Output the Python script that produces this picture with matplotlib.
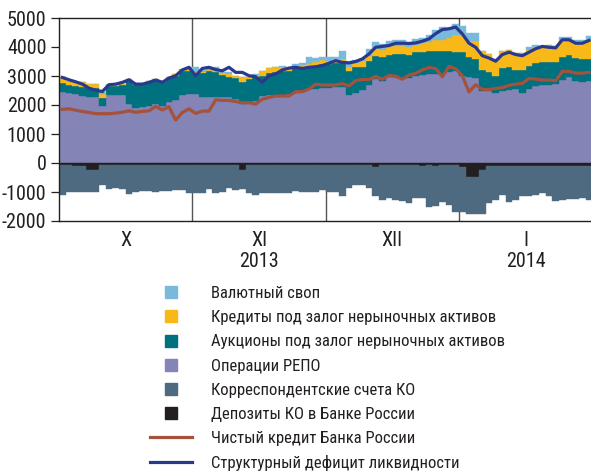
import os
import numpy as np
import matplotlib
matplotlib.use('Agg')
import matplotlib.pyplot as plt
from matplotlib.lines import Line2D
from matplotlib import font_manager as fm

# ежедневные данные, окт 2013 - янв 2014 (млрд руб.), 20 столбцов на месяц
months = ['X', 'XI', 'XII', 'I']
years = {1: '2013', 3: '2014'}

repo = [2450, 2400, 2370, 2310, 2280, 2280, 1970, 2340, 2340, 2340, 2050, 1910, 1930, 1970, 2050, 1970, 2120, 2160, 2350, 2370,
        2370, 2290, 2280, 2280, 2280, 2260, 2200, 2030, 2080, 2140, 2320, 2350, 2350, 2350, 2370, 2430, 2470, 2550, 2550, 2600,
        2600, 2630, 2630, 2350, 2430, 2510, 2700, 2890, 2840, 2950, 2950, 2930, 2930, 3010, 3040, 3070, 3070, 3070, 3130, 3180,
        3010, 2950, 2930, 2470, 2470, 2430, 2470, 2510, 2550, 2410, 2550, 2660, 2700, 2700, 2720, 2860, 2950, 2840, 2780, 2840]
auctions = [300, 300, 290, 320, 320, 300, 265, 320, 320, 360, 790, 810, 790, 810, 810, 810, 810, 845, 810, 790,
            750, 830, 880, 850, 760, 690, 720, 780, 810, 810, 690, 740, 780, 830, 810, 830, 830, 780, 810, 810,
            810, 810, 845, 810, 870, 810, 830, 810, 830, 790, 810, 830, 810, 810, 775, 790, 790, 790, 730, 640,
            810, 690, 660, 720, 660, 580, 810, 790, 660, 800, 780, 780, 780, 780, 750, 790, 780, 790, 810, 750]
credits = [220, 140, 120, 150, 140, 140, 160, 35, 20, 20, 45, 20, 10, 60, 35, 60, 45, 60, 45, 70,
           35, 35, 45, 60, 70, 115, 95, 150, 80, 60, 175, 175, 195, 115, 60, 95, 95, 95, 115, 140,
           115, 150, 115, 160, 140, 210, 175, 265, 230, 280, 290, 290, 255, 265, 315, 315, 370, 370, 460, 580,
           610, 580, 610, 670, 640, 580, 580, 580, 580, 580, 560, 560, 570, 580, 580, 600, 560, 580, 610, 660]
swap = [0, 0, 0, 0, 0, 0, 70, 45, 0, 0, 0, 0, 0, 0, 0, 0, 0, 0, 35, 70,
        140, 45, 115, 115, 45, 60, 0, 0, 0, 60, 0, 0, 0, 35, 0, 60, 45, 230, 150, 95,
        115, 60, 265, 210, 115, 60, 230, 200, 210, 185, 175, 175, 175, 200, 185, 230, 345, 460, 345, 380,
        310, 255, 280, 0, 0, 0, 0, 0, 0, 0, 115, 60, 0, 0, 0, 95, 60, 45, 45, 125]
deposits = [70, 70, 100, 100, 255, 255, 70, 60, 70, 70, 70, 70, 70, 70, 70, 70, 70, 70, 70, 70,
            70, 70, 70, 70, 70, 70, 70, 255, 70, 70, 70, 70, 70, 70, 70, 70, 70, 70, 70, 70,
            70, 70, 70, 70, 70, 70, 70, 130, 70, 70, 70, 70, 70, 70, 110, 70, 110, 70, 70, 70,
            150, 500, 500, 250, 90, 90, 90, 90, 90, 90, 90, 90, 90, 90, 90, 90, 90, 90, 90, 90]
corr = [1030, 915, 885, 885, 730, 730, 705, 830, 800, 820, 995, 915, 890, 890, 915, 890, 890, 855, 855, 970,
        970, 970, 820, 970, 915, 800, 855, 635, 970, 1030, 970, 970, 970, 970, 950, 890, 915, 935, 915, 855,
        915, 915, 1065, 800, 680, 680, 775, 1025, 1205, 1145, 1205, 1240, 1320, 1145, 1105, 1435, 1360, 1260, 1375, 1610,
        1530, 1270, 1270, 1520, 1300, 1185, 1010, 1240, 1185, 1065, 1035, 1010, 950, 1065, 1220, 1185, 1160, 1150, 1125, 1185]
net_credit = [1850, 1870, 1820, 1780, 1740, 1700, 1700, 1700, 1720, 1750, 1800, 1750, 1780, 1800, 1950, 1830, 1940, 1480, 1740, 1870,
              1710, 1790, 1790, 2180, 2160, 2160, 2120, 2080, 2080, 2030, 2200, 2260, 2310, 2310, 2310, 2460, 2460, 2550, 2720, 2690,
              2690, 2690, 2740, 2660, 2840, 2880, 2880, 2990, 2890, 3020, 2990, 2890, 3030, 3090, 3210, 3290, 3260, 2975, 3330, 3250,
              3010, 2450, 2700, 2535, 2535, 2570, 2600, 2675, 2720, 2745, 2915, 2895, 2860, 2860, 2835, 3160, 3160, 3100, 3100, 3125]
deficit = [2950, 2870, 2800, 2720, 2580, 2510, 2465, 2700, 2720, 2780, 2870, 2720, 2720, 2780, 2860, 2780, 2930, 3010, 3210, 3300,
           3010, 3260, 3300, 3220, 3180, 3300, 3125, 3125, 3010, 2975, 2780, 3010, 3070, 3210, 3275, 3300, 3260, 3300, 3320, 3360,
           3440, 3530, 3470, 3450, 3500, 3590, 3760, 3990, 4020, 4050, 4130, 4130, 4120, 4140, 4200, 4280, 4460, 4600, 4630, 4690,
           4450, 4130, 3990, 3700, 3620, 3510, 3740, 3820, 3740, 3700, 3820, 3940, 4020, 3990, 3970, 4250, 4250, 4130, 4130, 4225]

c_swap = '#78b9dc'
c_cred = '#f8b918'
c_auc = '#00717f'
c_repo = '#8584b6'
c_corr = '#4e6a80'
c_dep = '#231f20'
c_red = '#a4523c'
c_blue = '#293a8e'
c_text = '#231f20'


# узкий шрифт, если найдется
def pick_narrow():
    bases = {'liberation sans': 0, 'roboto': 1, 'noto sans': 2, 'open sans': 2, 'dejavu sans': 3, 'lato': 4, 'inter': 4}
    best = None
    for f in fm.fontManager.ttflist:
        if f.style != 'normal' or f.weight not in (400, 'normal', 'regular', 'book'):
            continue
        key = (f.name + ' ' + os.path.basename(f.fname)).lower()
        if 'mono' in key or 'serif' in key.replace('sans serif', ''):
            continue
        if 'narrow' in key or 'condensed' in key or f.stretch in ('condensed', 'semi-condensed'):
            base = f.name.lower().replace('narrow', '').replace('condensed', '').strip()
            if base not in bases:
                continue
            rank = bases[base]
            if 'extra' in key or 'ultra' in key:
                rank += 10
            elif 'semi' in key or f.stretch == 'semi-condensed':
                rank += 5
            if best is None or rank < best[0]:
                best = (rank, f.fname)
    return best[1] if best else None


narrow = pick_narrow()
if narrow:
    base_prop = fm.FontProperties(fname=narrow)
    tick_size, leg_size = 14.5, 12
else:
    base_prop = fm.FontProperties(family='Liberation Sans')
    tick_size, leg_size = 12, 11


def fp(size):
    p = base_prop.copy()
    p.set_size(size)
    return p


repo, auctions, credits, swap = map(np.array, (repo, auctions, credits, swap))
deposits, corr = np.array(deposits), np.array(corr)
x = np.arange(len(repo))

fig = plt.figure(figsize=(5.91, 4.73), dpi=100)
ax = fig.add_axes([59/591, 1 - 221/473, 1 - 59/591, 203/473])

kw = dict(width=1.0, linewidth=0.3)
ax.bar(x, repo, color=c_repo, edgecolor=c_repo, **kw)
ax.bar(x, auctions, bottom=repo, color=c_auc, edgecolor=c_auc, **kw)
ax.bar(x, credits, bottom=repo + auctions, color=c_cred, edgecolor=c_cred, **kw)
ax.bar(x, swap, bottom=repo + auctions + credits, color=c_swap, edgecolor=c_swap, **kw)
ax.bar(x, -deposits, color=c_dep, edgecolor=c_dep, **kw)
ax.bar(x, -corr, bottom=-deposits, color=c_corr, edgecolor=c_corr, **kw)

ax.plot(x, net_credit, color=c_red, lw=2.3, zorder=4)
ax.plot(x, deficit, color=c_blue, lw=2.3, zorder=5)

# границы месяцев
for m in range(1, 4):
    ax.axvline(20*m - 0.5, color='#555555', lw=1.0, zorder=0)

ax.set_xlim(-0.5, 79.3)
ax.set_ylim(-2000, 5000)
ax.set_yticks(range(-2000, 5001, 1000))
ax.set_yticklabels([str(v) for v in range(-2000, 5001, 1000)], fontproperties=fp(tick_size))
ax.set_xticks([])
ax.tick_params(axis='y', length=6, width=0.9, pad=3, colors=c_text)
for s in ['left', 'top', 'bottom']:
    ax.spines[s].set_color(c_text)
    ax.spines[s].set_linewidth(1.0)
ax.spines['right'].set_visible(False)

tr = ax.get_xaxis_transform()
for i, m in enumerate(months):
    ax.text(20*i + 9.5, -0.094, m, transform=tr, ha='center', va='center',
            fontproperties=fp(tick_size), color=c_text)
    if i in years:
        ax.text(20*i + 9.5, -0.20, years[i], transform=tr, ha='center', va='center',
                fontproperties=fp(tick_size), color=c_text)

handles = [
    Line2D([], [], marker='s', ls='none', ms=8, color=c_swap),
    Line2D([], [], marker='s', ls='none', ms=8, color=c_cred),
    Line2D([], [], marker='s', ls='none', ms=8, color=c_auc),
    Line2D([], [], marker='s', ls='none', ms=8, color=c_repo),
    Line2D([], [], marker='s', ls='none', ms=8, color=c_corr),
    Line2D([], [], marker='s', ls='none', ms=8, color=c_dep),
    Line2D([], [], color=c_red, lw=2.3),
    Line2D([], [], color=c_blue, lw=2.3),
]
labels = ['Валютный своп',
          'Кредиты под залог нерыночных активов',
          'Аукционы под залог нерыночных активов',
          'Операции РЕПО',
          'Корреспондентские счета КО',
          'Депозиты КО в Банке России',
          'Чистый кредит Банка России',
          'Структурный дефицит ликвидности']
em = leg_size * 100 / 72
fig.legend(handles, labels, loc='upper left', bbox_to_anchor=(150/591, 1 - 286/473),
           frameon=False, prop=fp(leg_size), handlelength=42 / em, handletextpad=19 / em,
           labelspacing=0.55, borderpad=0, borderaxespad=0, labelcolor=c_text)

fig.savefig('out.png', dpi=100)
